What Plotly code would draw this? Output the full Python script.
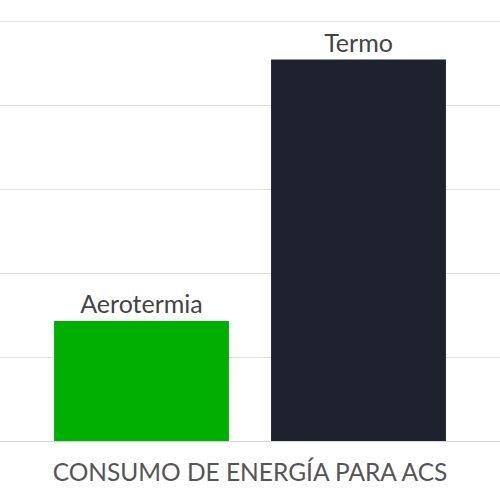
import plotly.graph_objects as go

# consumo de energia para ACS (escala relativa)
category = ["CONSUMO DE ENERGÍA PARA ACS"]
systems = ["Aerotermia", "Termo"]
consumo_aerotermia = [1.43]
consumo_termo = [4.55]
colors = ["#00b000", "#1e212e"]

fig = go.Figure()
for name, vals, col in zip(systems, [consumo_aerotermia, consumo_termo], colors):
    fig.add_trace(go.Bar(
        x=category, y=vals, name=name,
        marker=dict(color=col, line=dict(width=0)),
        text=[name], textposition="outside", cliponaxis=False,
        constraintext="none",
        textfont=dict(family="Lato", size=25, color="#444444"),
        hoverinfo="skip",
    ))

fig.update_layout(
    width=500, height=500,
    margin=dict(l=0, r=0, t=0, b=59, autoexpand=False),
    barmode="group", bargap=0.132, bargroupgap=0.194,
    showlegend=False,
    plot_bgcolor="white", paper_bgcolor="white",
    font=dict(family="Lato", color="#555555"),
    xaxis=dict(tickfont=dict(size=24.5, color="#555555"), ticks="", showline=False,
               automargin=False, ticklabelstandoff=14),
    yaxis=dict(range=[0, 5.26], dtick=1, showticklabels=False, automargin=False,
               gridcolor="#dddddd", gridwidth=1,
               zeroline=True, zerolinecolor="#d6d6d6", zerolinewidth=1),
)

# sin margen del body para que el grafico ocupe toda la ventana
fig.write_html("out.html", config={"displayModeBar": False},
               post_script="document.body.style.margin='0';")
